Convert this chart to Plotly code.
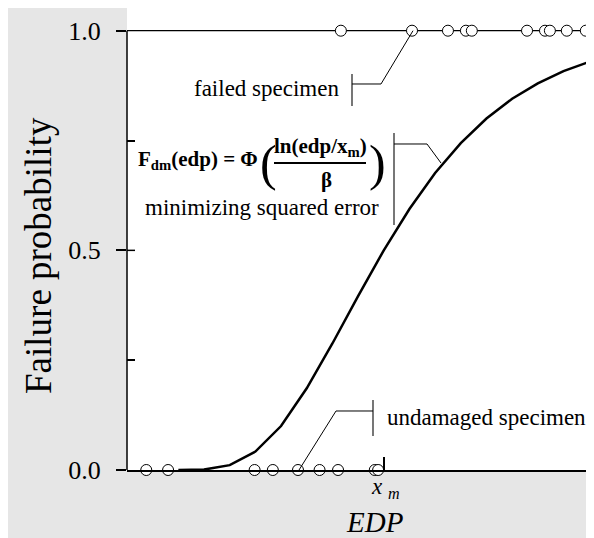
import plotly.graph_objects as go

# ---------------- data ----------------
XM = 1.0  # median x_m (EDP units)
curve_edp = [0.2, 0.3, 0.4, 0.5, 0.6, 0.7, 0.8, 0.9, 1.0, 1.1, 1.2, 1.3, 1.4,
             1.5, 1.6, 1.7, 1.8, 1.9]
curve_prob = [0.0, 0.001, 0.011, 0.042, 0.10, 0.186, 0.288, 0.396, 0.5, 0.594,
              0.676, 0.744, 0.80, 0.845, 0.88, 0.908, 0.929, 0.946]
undamaged_edp = [0.075, 0.16, 0.497, 0.568, 0.666, 0.75, 0.822, 0.965, 0.978]
failed_edp = [0.833, 1.110, 1.250, 1.320, 1.343, 1.558, 1.628, 1.647, 1.713, 1.787]
y_tickvals = [0.0, 0.5, 1.0]
y_ticktext = ["0.0", "0.5", "1.0"]
y_minor = [0.25, 0.75]

# ---------------- layout helpers (pixel -> paper) ----------------
W, H = 594, 538
L, R, T, B = 119, 0, 0, 76
PW, PH = W - L - R, H - T - B
def px(x):
    return (x - L) / PW
def py(y):
    return (H - B - y) / PH

SERIF = "Liberation Serif, Times New Roman, serif"

fig = go.Figure()
fig.add_trace(go.Scatter(x=curve_edp, y=curve_prob, mode="lines",
                         line=dict(color="black", width=2.5), hoverinfo="skip"))
fig.add_trace(go.Scatter(x=undamaged_edp, y=[0] * len(undamaged_edp), mode="markers",
                         marker=dict(symbol="circle", size=11, color="white",
                                     line=dict(color="black", width=1)),
                         cliponaxis=False))
fig.add_trace(go.Scatter(x=failed_edp, y=[1] * len(failed_edp), mode="markers",
                         marker=dict(symbol="circle", size=11, color="white",
                                     line=dict(color="black", width=1)),
                         cliponaxis=False))

shapes = []
# y axis line (0..1) and top line at 1.0
shapes.append(dict(type="line", xref="paper", yref="y", x0=0, x1=0, y0=0, y1=1,
                   line=dict(color="black", width=1.5), layer="below"))
shapes.append(dict(type="line", xref="paper", yref="y", x0=0, x1=1, y0=1, y1=1,
                   line=dict(color="black", width=1.2), layer="below"))
# inner part of crossing tick at 0.5
shapes.append(dict(type="line", xref="paper", yref="y", x0=0, x1=px(127), y0=0.5, y1=0.5,
                   line=dict(color="black", width=1.5)))

def path(points):
    return "M " + " L ".join(f"{px(x):.5f},{py(y):.5f}" for x, y in points)

thin = dict(color="black", width=1)
bar = dict(color="#555555", width=1.6)
# failed specimen bracket
shapes.append(dict(type="path", xref="paper", yref="paper",
                   path=path([(344, 66), (344, 98)]), line=bar))
shapes.append(dict(type="path", xref="paper", yref="paper",
                   path=path([(344, 76), (373, 76), (405, 22.7)]), line=thin))
# formula bracket
shapes.append(dict(type="path", xref="paper", yref="paper",
                   path=path([(386, 125), (386, 217)]), line=bar))
shapes.append(dict(type="path", xref="paper", yref="paper",
                   path=path([(386, 136), (419, 136), (433, 155)]), line=thin))
# undamaged specimen bracket
shapes.append(dict(type="path", xref="paper", yref="paper",
                   path=path([(365, 392), (365, 428)]), line=bar))
shapes.append(dict(type="path", xref="paper", yref="paper",
                   path=path([(365, 403), (328, 403), (291, 462)]), line=thin))
# fraction bar
shapes.append(dict(type="line", xref="paper", yref="paper",
                   x0=px(266), x1=px(358), y0=py(155), y1=py(155),
                   line=dict(color="black", width=2)))

ann = []
def text(x, y, s, size, xanchor="center", bold=False, italic=False, angle=0):
    ann.append(dict(x=px(x), y=py(y), xref="paper", yref="paper", text=s,
                    showarrow=False, xanchor=xanchor, yanchor="middle",
                    textangle=angle,
                    font=dict(family=SERIF, size=size, color="black",
                              style="italic" if italic else "normal",
                              weight="bold" if bold else "normal")))

text(258, 80, "failed specimen", 23)
text(254, 199, "minimizing squared error", 23)
text(377, 409, "undamaged specimen", 23, xanchor="left")
# formula
text(252, 152, "F<sub>dm</sub>(edp) = Φ", 21, xanchor="right", bold=True)
text(260, 155, "(", 50)
text(369, 155, ")", 50)
text(312, 139, "ln(edp/x<sub>m</sub>)", 21, bold=True)
text(318, 172, "β", 21, bold=True)
# axis labels
text(377, 480, "x <sub>m</sub>", 23, italic=True)
text(366, 514, "EDP", 29, italic=True)
text(30, 248, "Failure probability", 37, angle=-90)

fig.update_layout(
    width=W, height=H,
    margin=dict(l=L, r=R, t=T, b=B, pad=0),
    paper_bgcolor="#e6e6e6", plot_bgcolor="white",
    showlegend=False,
    shapes=shapes, annotations=ann,
    xaxis=dict(range=[0, 1.85], showline=True, linecolor="black", linewidth=1.5,
               tickvals=[XM], ticks="inside", ticklen=13, tickwidth=1.5,
               tickcolor="black", showticklabels=False, showgrid=False,
               zeroline=False),
    yaxis=dict(range=[0, PH / 439.3], tickvals=y_tickvals, ticktext=y_ticktext,
               ticks="outside", ticklen=10, tickwidth=1.5, tickcolor="black",
               ticklabelstandoff=10,
               minor=dict(tickvals=y_minor, ticks="inside", ticklen=8,
                          tickwidth=1.5, tickcolor="black", showgrid=False),
               tickfont=dict(family=SERIF, size=26, color="black"),
               showgrid=False, zeroline=False, showline=False),
)

fig.write_html("out.html")
